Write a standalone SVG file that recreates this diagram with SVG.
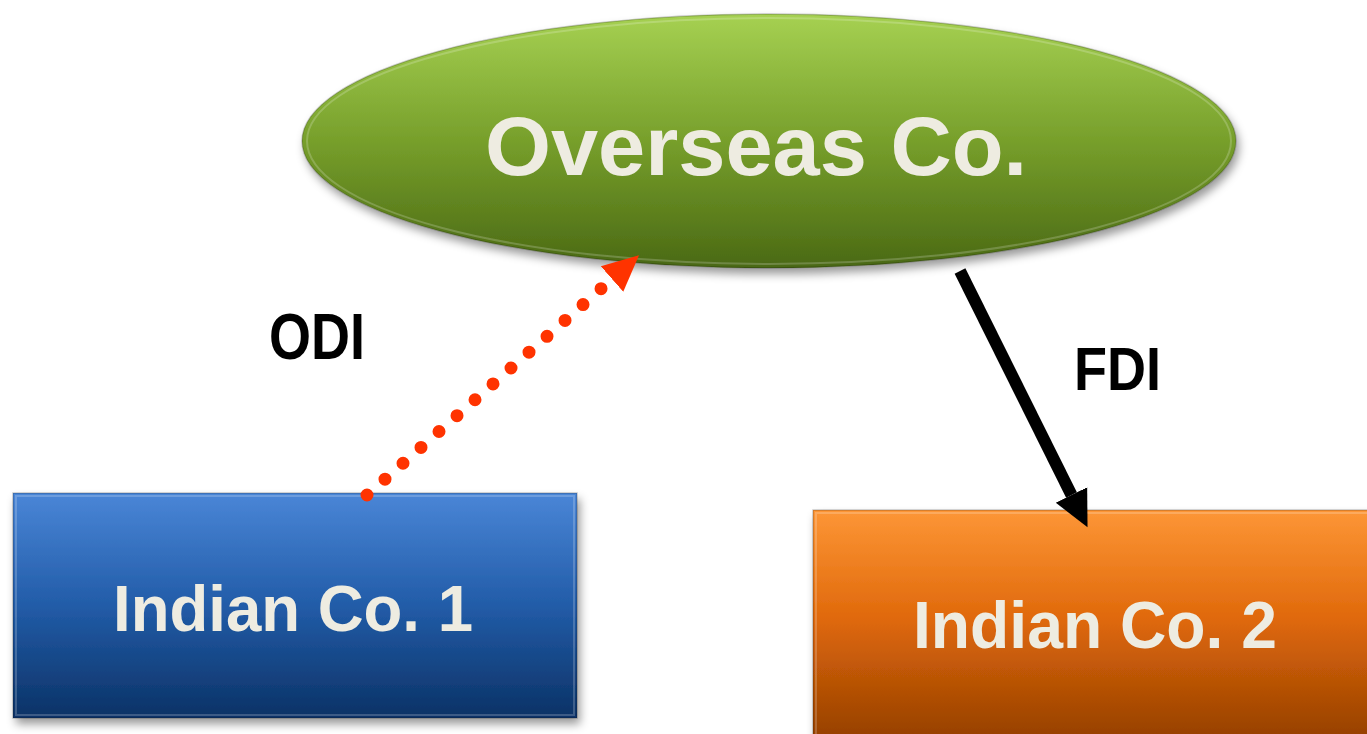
<svg xmlns="http://www.w3.org/2000/svg" width="1367" height="734" viewBox="0 0 1367 734">
  <defs>
    <linearGradient id="gradGreen" x1="0" y1="0" x2="0" y2="1">
      <stop offset="0" stop-color="#a6d152"/>
      <stop offset="0.5" stop-color="#779f2b"/>
      <stop offset="1" stop-color="#4a6914"/>
    </linearGradient>
    <linearGradient id="gradBlue" x1="0" y1="0" x2="0" y2="1">
      <stop offset="0" stop-color="#4a86d7"/>
      <stop offset="0.5" stop-color="#225ca8"/>
      <stop offset="1" stop-color="#0b3266"/>
    </linearGradient>
    <linearGradient id="gradOrange" x1="0" y1="0" x2="0" y2="1">
      <stop offset="0" stop-color="#fd9636"/>
      <stop offset="0.45" stop-color="#e0690b"/>
      <stop offset="1" stop-color="#8f3c00"/>
    </linearGradient>
    <filter id="shadow" x="-10%" y="-10%" width="125%" height="130%">
      <feDropShadow dx="3" dy="6" stdDeviation="5" flood-color="#000" flood-opacity="0.4"/>
    </filter>
    <marker id="headRed" markerUnits="userSpaceOnUse" markerWidth="40" markerHeight="40" viewBox="0 -20 40 40" refX="0" refY="0" orient="auto">
      <path d="M0,-17 L36,0 L0,17 Z" fill="#ff3300"/>
    </marker>
    <marker id="headBlack" markerUnits="userSpaceOnUse" markerWidth="40" markerHeight="40" viewBox="0 -20 40 40" refX="0" refY="0" orient="auto">
      <path d="M0,-17.5 L36,0 L0,17.5 Z" fill="#000"/>
    </marker>
    <style>
      .node-label { font-family: "Liberation Sans", Arial, sans-serif; font-weight: bold; fill: #eeece1; }
      .edge-label { font-family: "Liberation Sans", Arial, sans-serif; font-weight: bold; fill: #000; }
      .bevel { fill: none; stroke: #ffffff; stroke-opacity: 0.2; stroke-width: 2; }
      .rim { fill: none; stroke: #000000; stroke-opacity: 0.2; stroke-width: 1.5; }
    </style>
  </defs>

  <rect width="1367" height="734" fill="#ffffff"/>

  <!-- Nodes -->
  <g id="overseas-co">
    <ellipse cx="769" cy="141" rx="467" ry="127" fill="url(#gradGreen)" filter="url(#shadow)"/>
    <ellipse cx="769" cy="141" rx="467" ry="127" class="rim"/>
    <ellipse cx="769" cy="141" rx="462" ry="123" class="bevel"/>
    <text class="node-label" x="485" y="175" font-size="84" textLength="542" lengthAdjust="spacingAndGlyphs">Overseas Co.</text>
  </g>

  <g id="indian-co-1">
    <rect x="13" y="493" width="564" height="225" fill="url(#gradBlue)" filter="url(#shadow)"/>
    <rect x="13" y="493" width="564" height="225" class="rim"/>
    <rect x="16" y="496" width="558" height="219" class="bevel"/>
    <text class="node-label" x="113" y="631" font-size="65" textLength="360" lengthAdjust="spacingAndGlyphs">Indian Co. 1</text>
  </g>

  <g id="indian-co-2">
    <rect x="813" y="510" width="570" height="240" fill="url(#gradOrange)" filter="url(#shadow)"/>
    <rect x="813" y="510" width="570" height="240" class="rim"/>
    <rect x="816" y="513" width="564" height="234" class="bevel"/>
    <text class="node-label" x="913" y="648" font-size="66" textLength="364" lengthAdjust="spacingAndGlyphs">Indian Co. 2</text>
  </g>

  <!-- Connectors -->
  <g id="connectors">
    <path id="odi-edge" d="M367,495 L612,279" fill="none" stroke="#ff3300" stroke-width="13" stroke-linecap="round" stroke-dasharray="0 24" marker-end="url(#headRed)"/>
    <path id="fdi-edge" d="M960,271 L1071.5,495" fill="none" stroke="#000" stroke-width="12" marker-end="url(#headBlack)"/>
    <text class="edge-label" x="269" y="359" font-size="64" textLength="96" lengthAdjust="spacingAndGlyphs">ODI</text>
    <text class="edge-label" x="1074" y="390" font-size="61" textLength="87" lengthAdjust="spacingAndGlyphs">FDI</text>
  </g>
</svg>
